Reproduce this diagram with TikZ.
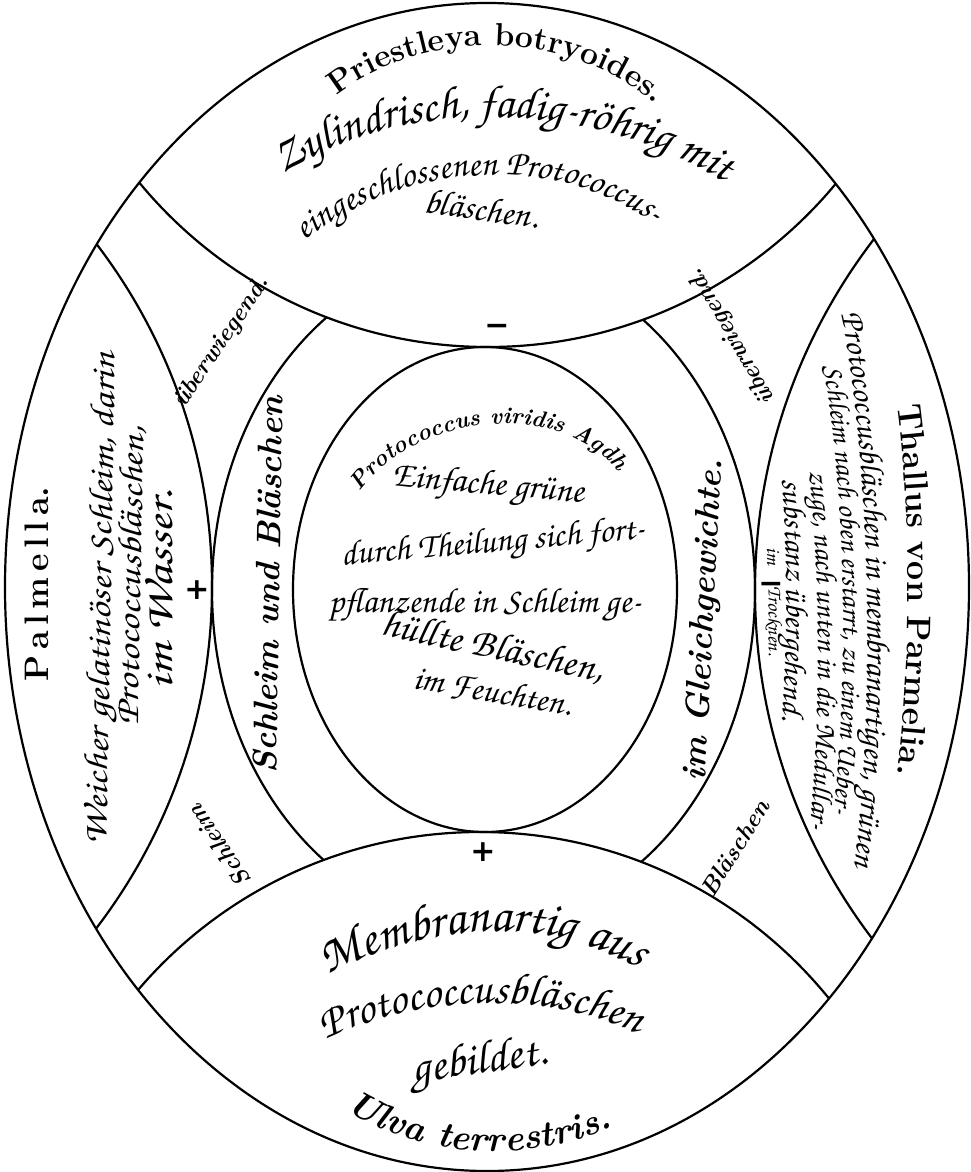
\documentclass[tikz,border=0pt]{standalone}
\usepackage{graphicx}
\usepackage{fontspec}
\newfontfamily\signfont{DejaVu Sans}
\usepackage[T1,TU]{fontenc}
\usetikzlibrary{decorations.text}
\newcommand\handw[1]{\fontencoding{T1}\fontfamily{pzc}\fontseries{mb}\fontshape{it}\fontsize{#1}{#1}\selectfont}
\newcommand\heavy[1]{\fontencoding{TU}\fontfamily{lmr}\bfseries\fontsize{#1}{#1}\selectfont}
\newcommand\heavyit[1]{\fontencoding{TU}\fontfamily{lmr}\bfseries\itshape\fontsize{#1}{#1}\selectfont}
\newcommand\wide[2][1.2]{\scalebox{#1}[1]{#2}}
\begin{document}
\begin{tikzpicture}[x=1pt,y=-1pt,
  rim/.style={line width=2.2pt},
  say/.style={inner sep=0pt},
  sign/.style={inner sep=0pt,font=\signfont\bfseries\fontsize{30}{30}\selectfont},
  bend text/.style={decorate,decoration={text along path,text align=center,text={#1}}}]
  \useasboundingbox (0,0) rectangle (970,1172);
  % rings and lenses
  \begin{scope}
    \clip (487,587) ellipse [x radius=482, y radius=584];
    \draw[rim] (483.5,590) ellipse [x radius=271.5, y radius=334];
    \fill[white] (488,-105) circle [radius=452];
    \fill[white] (480,1281) circle [radius=449];
    \draw[rim] (485,589.5) ellipse [x radius=192, y radius=242.5];
    \draw[rim] (488,-105) circle [radius=452];
    \draw[rim] (480,1281) circle [radius=449];
    \draw[rim] (-352,586) circle [radius=564];
    \draw[rim] (1332,590) circle [radius=577];
  \end{scope}
  \draw[rim] (487,587) ellipse [x radius=482, y radius=584];

  % top
  \path[bend text={|\heavy{32}|Priestleya botryoides.}] (312,118) .. controls (400,20) and (590,20) .. (678,128);
  \path[bend text={|\handw{46}|Zylindrisch, fadig-röhrig mit}] (250,202) .. controls (365,88) and (615,88) .. (760,208);
  \path[bend text={|\handw{36}|eingeschlossenen Protococcus-}] (300,245) .. controls (400,160) and (560,150) .. (660,228);
  \node[say,font=\handw{36},rotate=-8] (blaeschen) at (482,208) {bläschen.};

  % left
  \node[say,font=\heavy{34},rotate=90] (palmella) at (37,584) {P\,a\,l\,m\,e\,l\,l\,a.};
  \node[say,font=\handw{34},rotate=89] (weicher) at (104,599) {\wide{Weicher gelatinöser Schleim, darin}};
  \node[say,font=\handw{34},rotate=89] (palmBl) at (131,576) {\wide{Protococcusbläschen,}};
  \node[say,font=\handw{40},rotate=90] (wasser) at (159,590) {\wide[1.3]{im Wasser.}};

  % right
  \path[bend text={|\heavy{34}|Thallus von Parmelia.}] (895,390) .. controls (912,500) and (912,680) .. (895,790);
  \path[bend text={|\handw{33}|Protococcusbläschen in membranartigen, grünen}] (838,300) .. controls (872,450) and (876,730) .. (852,880);
  \path[bend text={|\handw{29}|Schleim nach oben erstarrt, zu einem Ueber-}] (818,340) .. controls (848,480) and (850,700) .. (830,840);
  \path[bend text={|\handw{30}|zuge, nach unten in die Medullar-}] (805,440) .. controls (822,560) and (822,740) .. (806,860);
  \path[bend text={|\handw{32}|substanz übergehend.}] (781,470) .. controls (788,550) and (788,650) .. (781,730);
  \node[say,font=\handw{20},rotate=-90] (imT) at (773,556) {im};
  \node[say,font=\handw{20},rotate=-90] (trocknen) at (774,621) {Trocknen.};

  % bottom
  \path[bend text={|\handw{50}|Membranartig aus}] (310,985) .. controls (420,920) and (560,910) .. (655,980);
  \path[bend text={|\handw{45}|Protococcusbläschen}] (315,1045) .. controls (420,990) and (560,990) .. (648,1040);
  \node[say,font=\handw{46},rotate=8] (gebildet) at (480,1064) {gebildet.};
  \path[bend text={|\heavyit{36}|Ulva terrestris.}] (330,1100) .. controls (420,1165) and (545,1165) .. (630,1118);

  % centre
  \path[bend text={|\heavyit{23}|Protococcus viridis Agdh.}] (365,485) .. controls (430,408) and (565,403) .. (618,472);
  \node[say,font=\handw{36},rotate=-5] (einfache) at (488,487) {Einfache grüne};
  \node[say,font=\handw{35},rotate=5] (theilung) at (493,545) {durch Theilung sich fort-};
  \node[say,font=\handw{35}] (pflanzende) at (485,605) {pflanzende in Schleim ge-};
  \node[say,font=\handw{40},rotate=-12] (huellte) at (493,647) {hüllte Bläschen,};
  \node[say,font=\handw{35},rotate=-10] (feuchten) at (493,692) {im Feuchten.};

  % band
  \node[say,font=\heavyit{34},rotate=89] (schleimBl) at (268,585) {Schleim und Bläschen};
  \node[say,font=\heavyit{34},rotate=87] (gleich) at (705,620) {im Gleichgewichte.};
  \node[say,font=\heavyit{24},rotate=56] (uebL) at (222,342) {überwiegend.};
  \node[say,font=\heavyit{24},rotate=120] (uebR) at (732,336) {überwiegend.};
  \node[say,font=\heavyit{24},rotate=124] (schleimL) at (219,846) {Schleim};
  \node[say,font=\heavyit{24},rotate=58] (blaeschR) at (735,848) {Bläschen};

  % signs
  \node[sign] (minusT) at (497,330) {−};
  \node[sign] (plusL) at (197,590) {+};
  \node[sign] (plusB) at (483,852) {+};
  \node[sign] (minusR) at (771,588) {−};
\end{tikzpicture}
\end{document}
